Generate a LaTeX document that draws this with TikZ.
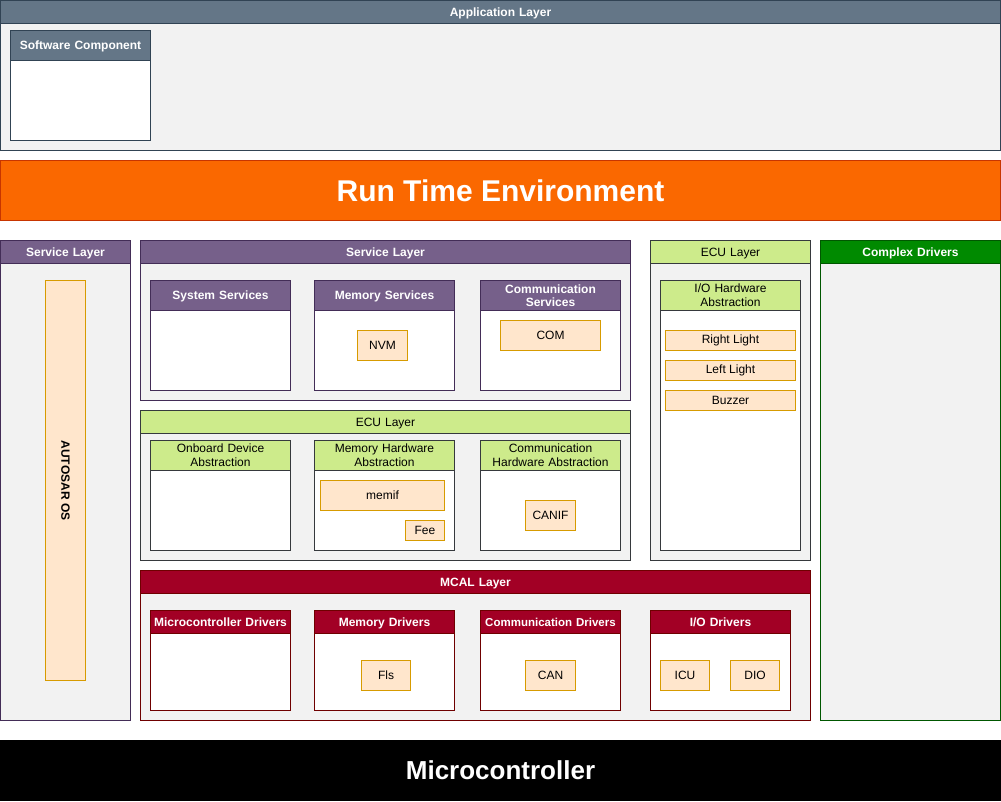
\documentclass[tikz,border=0pt]{standalone}
\usepackage{fontspec}
\setmainfont{Liberation Sans}
\definecolor{bodygray}{HTML}{F2F2F2}
\definecolor{appfill}{HTML}{647687}
\definecolor{appline}{HTML}{314354}
\definecolor{rtefill}{HTML}{FA6800}
\definecolor{rteline}{HTML}{C73500}
\definecolor{svcfill}{HTML}{76608A}
\definecolor{svcline}{HTML}{432D57}
\definecolor{ecufill}{HTML}{CDEB8B}
\definecolor{eculine}{HTML}{36393D}
\definecolor{cdfill}{HTML}{008A00}
\definecolor{cdline}{HTML}{005700}
\definecolor{mcfill}{HTML}{A20025}
\definecolor{mcline}{HTML}{6F0000}
\definecolor{modfill}{HTML}{FFE6CC}
\definecolor{modline}{HTML}{D79B00}
\tikzset{
  base/.style={rectangle, inner sep=0pt, outer sep=0pt, line width=1pt, anchor=north west},
  hdrtext/.style={font=\fontsize{12}{13.5}\selectfont\bfseries, text=white, align=center},
  ecutext/.style={font=\fontsize{12}{14}\selectfont, text=black, align=center},
  appbody/.style={base, fill=bodygray, draw=appline},
  apphead/.style={base, fill=appfill, draw=appline, hdrtext},
  appwhite/.style={base, fill=white, draw=appline},
  svcbody/.style={base, fill=bodygray, draw=svcline},
  svchead/.style={base, fill=svcfill, draw=svcline, hdrtext},
  svcwhite/.style={base, fill=white, draw=svcline},
  ecubody/.style={base, fill=bodygray, draw=eculine},
  ecuhead/.style={base, fill=ecufill, draw=eculine, ecutext},
  ecuwhite/.style={base, fill=white, draw=eculine},
  cdbody/.style={base, fill=bodygray, draw=cdline},
  cdhead/.style={base, fill=cdfill, draw=cdline, hdrtext},
  mcbody/.style={base, fill=bodygray, draw=mcline},
  mchead/.style={base, fill=mcfill, draw=mcline, hdrtext},
  mcwhite/.style={base, fill=white, draw=mcline},
  module/.style={base, fill=modfill, draw=modline, font=\fontsize{12}{14}\selectfont, text=black},
  banner/.style={base, text=white, font=\bfseries},
}
\newcommand{\bx}[6]{% style, name, x1, y1, x2, y2
  \pgfmathsetmacro{\bw}{#5-#3}\pgfmathsetmacro{\bh}{#6-#4}%
  \node[#1, minimum width=\bw pt, minimum height=\bh pt] (#2) at (#3,#4) {};}
\newcommand{\hd}[7]{% single-line header: style, name, x1, y1, x2, y2, text
  \pgfmathsetmacro{\bw}{#5-#3}\pgfmathsetmacro{\bh}{#6-#4}%
  \node[#1, minimum width=\bw pt, minimum height=\bh pt, text width=\bw pt-2pt, text depth=0pt] (#2) at (#3,#4) {#7};}
\newcommand{\hdm}[7]{% two-line header
  \pgfmathsetmacro{\bw}{#5-#3}\pgfmathsetmacro{\bh}{#6-#4}%
  \node[#1, minimum width=\bw pt, minimum height=\bh pt, text width=\bw pt-2pt] (#2) at (#3,#4) {#7};}
\begin{document}
\begin{tikzpicture}[x=1pt,y=-1pt]
\useasboundingbox (0,0) rectangle (1001,801);
% Application layer
\bx{appbody}{app}{0.5}{0.5}{1000.5}{150.5}
\hd{apphead}{apph}{0.5}{0.5}{1000.5}{23.5}{Application Layer}
\bx{appwhite}{swc}{10.5}{30.5}{150.5}{140.5}
\hd{apphead}{swch}{10.5}{30.5}{150.5}{60.5}{Software Component}
% RTE
\node[banner, fill=rtefill, draw=rteline, minimum width=1000pt, minimum height=60pt, font=\fontsize{30}{34}\selectfont\bfseries] (rte) at (0.5,160.5) {Run Time Environment};
% Left service layer
\bx{svcbody}{svl}{0.5}{240.5}{130.5}{720.5}
\hd{svchead}{svlh}{0.5}{240.5}{130.5}{263.5}{Service Layer}
\node[module, minimum width=40pt, minimum height=400pt] (os) at (45.5,280.5) {};
\node[font=\fontsize{12}{14}\selectfont\bfseries, rotate=-90] (ostxt) at (os.center) {AUTOSAR OS};
% Middle service layer
\bx{svcbody}{svm}{140.5}{240.5}{630.5}{400.5}
\hd{svchead}{svmh}{140.5}{240.5}{630.5}{263.5}{Service Layer}
\bx{svcwhite}{sys}{150.5}{280.5}{290.5}{390.5}
\hd{svchead}{sysh}{150.5}{280.5}{290.5}{310.5}{System Services}
\bx{svcwhite}{mem}{314.5}{280.5}{454.5}{390.5}
\hd{svchead}{memh}{314.5}{280.5}{454.5}{310.5}{Memory Services}
\bx{svcwhite}{com}{480.5}{280.5}{620.5}{390.5}
\hdm{svchead}{comh}{480.5}{280.5}{620.5}{310.5}{Communication\\Services}
\node[module, minimum width=50pt, minimum height=30pt] (nvm) at (357.5,330.5) {NVM};
\node[module, minimum width=100pt, minimum height=30pt] (comm) at (500.5,320.5) {COM};
% Middle ECU layer
\bx{ecubody}{ecum}{140.5}{410.5}{630.5}{560.5}
\hd{ecuhead}{ecumh}{140.5}{410.5}{630.5}{433.5}{ECU Layer}
\bx{ecuwhite}{oda}{150.5}{440.5}{290.5}{550.5}
\hdm{ecuhead}{odah}{150.5}{440.5}{290.5}{470.5}{Onboard Device\\Abstraction}
\bx{ecuwhite}{mha}{314.5}{440.5}{454.5}{550.5}
\hdm{ecuhead}{mhah}{314.5}{440.5}{454.5}{470.5}{Memory Hardware\\Abstraction}
\bx{ecuwhite}{cha}{480.5}{440.5}{620.5}{550.5}
\hdm{ecuhead}{chah}{480.5}{440.5}{620.5}{470.5}{Communication\\Hardware Abstraction}
\node[module, minimum width=124pt, minimum height=30pt] (memif) at (320.5,480.5) {memif};
\node[module, minimum width=39pt, minimum height=20pt] (fee) at (405.5,520.5) {Fee};
\node[module, minimum width=50pt, minimum height=30pt] (canif) at (525.5,500.5) {CANIF};
% Right ECU layer
\bx{ecubody}{ecur}{650.5}{240.5}{810.5}{560.5}
\hd{ecuhead}{ecurh}{650.5}{240.5}{810.5}{263.5}{ECU Layer}
\bx{ecuwhite}{ioha}{660.5}{280.5}{800.5}{550.5}
\hdm{ecuhead}{iohah}{660.5}{280.5}{800.5}{310.5}{I/O Hardware\\Abstraction}
\node[module, minimum width=130pt, minimum height=20pt] (rl) at (665.5,330.5) {Right Light};
\node[module, minimum width=130pt, minimum height=20pt] (ll) at (665.5,360.5) {Left Light};
\node[module, minimum width=130pt, minimum height=20pt] (bz) at (665.5,390.5) {Buzzer};
% Complex drivers
\bx{cdbody}{cd}{820.5}{240.5}{1000.5}{720.5}
\hd{cdhead}{cdh}{820.5}{240.5}{1000.5}{263.5}{Complex Drivers}
% MCAL
\bx{mcbody}{mcal}{140.5}{570.5}{810.5}{720.5}
\hd{mchead}{mcalh}{140.5}{570.5}{810.5}{593.5}{MCAL Layer}
\bx{mcwhite}{mcd}{150.5}{610.5}{290.5}{710.5}
\hd{mchead}{mcdh}{150.5}{610.5}{290.5}{633.5}{Microcontroller Drivers}
\bx{mcwhite}{md}{314.5}{610.5}{454.5}{710.5}
\hd{mchead}{mdh}{314.5}{610.5}{454.5}{633.5}{Memory Drivers}
\bx{mcwhite}{cmd}{480.5}{610.5}{620.5}{710.5}
\hd{mchead}{cmdh}{480.5}{610.5}{620.5}{633.5}{\fontsize{11.5}{13}\selectfont Communication Drivers}
\bx{mcwhite}{iod}{650.5}{610.5}{790.5}{710.5}
\hd{mchead}{iodh}{650.5}{610.5}{790.5}{633.5}{I/O Drivers}
\node[module, minimum width=49pt, minimum height=30pt] (fls) at (361.5,660.5) {Fls};
\node[module, minimum width=50pt, minimum height=30pt] (can) at (525.5,660.5) {CAN};
\node[module, minimum width=49pt, minimum height=30pt] (icu) at (660.5,660.5) {ICU};
\node[module, minimum width=49pt, minimum height=30pt] (dio) at (730.5,660.5) {DIO};
% Microcontroller
\node[banner, fill=black, draw=black, minimum width=1000pt, minimum height=60pt, font=\fontsize{26}{30}\selectfont\bfseries] (mc) at (0.5,740.5) {Microcontroller};
\end{tikzpicture}
\end{document}
